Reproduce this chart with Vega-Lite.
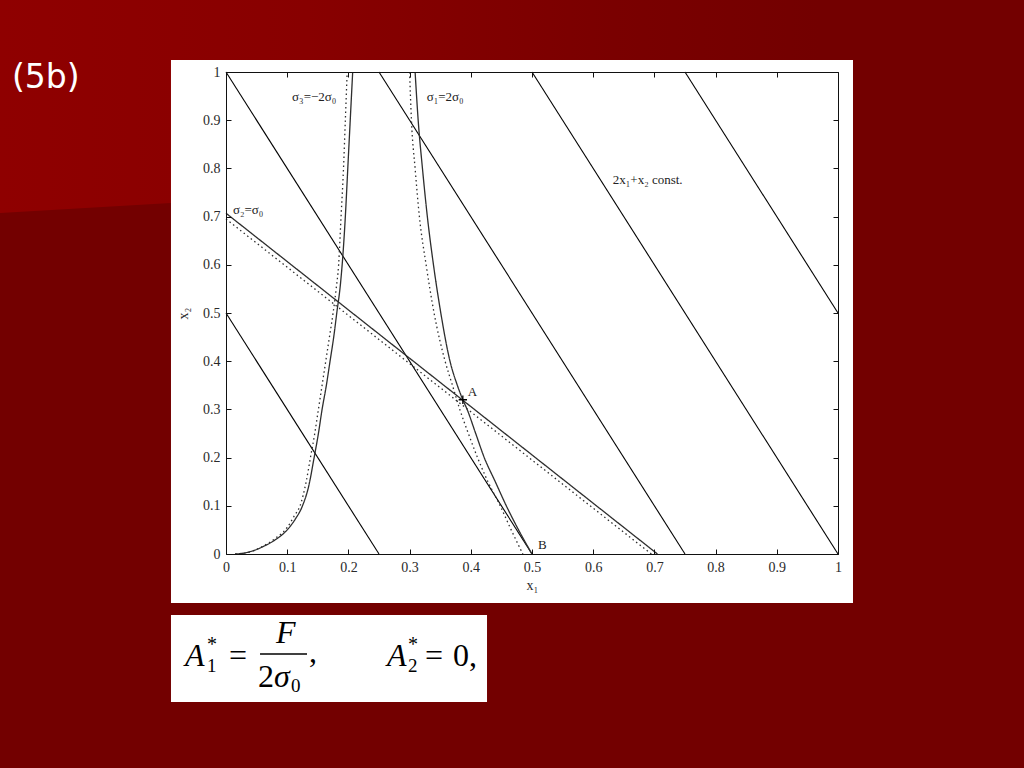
{
  "$schema": "https://vega.github.io/schema/vega-lite/v6.json",
  "width": 612,
  "height": 482,
  "autosize": {"type": "none"},
  "padding": {"left": 226, "top": 72, "right": 186, "bottom": 214},
  "background": "#730000",
  "config": {
    "view": {"stroke": null},
    "axis": {
      "zindex": 1,
      "grid": false,
      "domainColor": "#111",
      "domainWidth": 1,
      "tickColor": "#111",
      "tickSize": -5,
      "labelPadding": 11,
      "labelFlush": false,
      "labelOverlap": false,
      "labelFont": "Liberation Serif",
      "labelFontSize": 14,
      "labelColor": "#2a2a2a",
      "titleFont": "Liberation Serif",
      "titleFontSize": 14,
      "titleFontWeight": "normal",
      "titleColor": "#2a2a2a"
    }
  },
  "datasets": {
    "bg": [{"x": -0.3693, "y": 0.7075}, {"x": 1.3039, "y": 0.8324}],
    "box": [{"x": -0.0899, "x2": 1.0245, "y": -0.1017, "y2": 1.0249}, {"x": -0.0899, "x2": 0.4265, "y": -0.1266, "y2": -0.3071}],
    "constLines": [
      {"c": "0.5", "x": 0, "y": 0.5}, {"c": "0.5", "x": 0.25, "y": 0},
      {"c": "1.0", "x": 0, "y": 1}, {"c": "1.0", "x": 0.5, "y": 0},
      {"c": "1.5", "x": 0.25, "y": 1}, {"c": "1.5", "x": 0.75, "y": 0},
      {"c": "2.0", "x": 0.5, "y": 1}, {"c": "2.0", "x": 1, "y": 0},
      {"c": "2.5", "x": 0.75, "y": 1}, {"c": "2.5", "x": 1, "y": 0.5}
    ],
    "sigma": [
      {"curve": "s2", "kind": "exact", "x": 0, "y": 0.707},
      {"curve": "s2", "kind": "exact", "x": 0.705, "y": 0},
      {"curve": "s2d", "kind": "approx", "x": 0, "y": 0.695},
      {"curve": "s2d", "kind": "approx", "x": 0.695, "y": 0},
      {"curve": "s3", "kind": "exact", "x": 0.015, "y": 0},
      {"curve": "s3", "kind": "exact", "x": 0.03, "y": 0.002},
      {"curve": "s3", "kind": "exact", "x": 0.045, "y": 0.007},
      {"curve": "s3", "kind": "exact", "x": 0.06, "y": 0.015},
      {"curve": "s3", "kind": "exact", "x": 0.08, "y": 0.029},
      {"curve": "s3", "kind": "exact", "x": 0.1, "y": 0.05},
      {"curve": "s3", "kind": "exact", "x": 0.113, "y": 0.072},
      {"curve": "s3", "kind": "exact", "x": 0.125, "y": 0.1},
      {"curve": "s3", "kind": "exact", "x": 0.135, "y": 0.14},
      {"curve": "s3", "kind": "exact", "x": 0.144, "y": 0.2},
      {"curve": "s3", "kind": "exact", "x": 0.151, "y": 0.25},
      {"curve": "s3", "kind": "exact", "x": 0.157, "y": 0.3},
      {"curve": "s3", "kind": "exact", "x": 0.164, "y": 0.35},
      {"curve": "s3", "kind": "exact", "x": 0.17, "y": 0.4},
      {"curve": "s3", "kind": "exact", "x": 0.176, "y": 0.45},
      {"curve": "s3", "kind": "exact", "x": 0.181, "y": 0.5},
      {"curve": "s3", "kind": "exact", "x": 0.187, "y": 0.56},
      {"curve": "s3", "kind": "exact", "x": 0.191, "y": 0.62},
      {"curve": "s3", "kind": "exact", "x": 0.195, "y": 0.7},
      {"curve": "s3", "kind": "exact", "x": 0.199, "y": 0.8},
      {"curve": "s3", "kind": "exact", "x": 0.203, "y": 0.9},
      {"curve": "s3", "kind": "exact", "x": 0.207, "y": 1.0},
      {"curve": "s3d", "kind": "approx", "x": 0.015, "y": 0},
      {"curve": "s3d", "kind": "approx", "x": 0.03, "y": 0.002},
      {"curve": "s3d", "kind": "approx", "x": 0.045, "y": 0.007},
      {"curve": "s3d", "kind": "approx", "x": 0.06, "y": 0.016},
      {"curve": "s3d", "kind": "approx", "x": 0.08, "y": 0.032},
      {"curve": "s3d", "kind": "approx", "x": 0.1, "y": 0.055},
      {"curve": "s3d", "kind": "approx", "x": 0.112, "y": 0.08},
      {"curve": "s3d", "kind": "approx", "x": 0.121, "y": 0.1},
      {"curve": "s3d", "kind": "approx", "x": 0.131, "y": 0.15},
      {"curve": "s3d", "kind": "approx", "x": 0.138, "y": 0.2},
      {"curve": "s3d", "kind": "approx", "x": 0.145, "y": 0.25},
      {"curve": "s3d", "kind": "approx", "x": 0.151, "y": 0.3},
      {"curve": "s3d", "kind": "approx", "x": 0.157, "y": 0.35},
      {"curve": "s3d", "kind": "approx", "x": 0.163, "y": 0.4},
      {"curve": "s3d", "kind": "approx", "x": 0.169, "y": 0.45},
      {"curve": "s3d", "kind": "approx", "x": 0.175, "y": 0.5},
      {"curve": "s3d", "kind": "approx", "x": 0.18, "y": 0.55},
      {"curve": "s3d", "kind": "approx", "x": 0.184, "y": 0.6},
      {"curve": "s3d", "kind": "approx", "x": 0.188, "y": 0.7},
      {"curve": "s3d", "kind": "approx", "x": 0.192, "y": 0.8},
      {"curve": "s3d", "kind": "approx", "x": 0.195, "y": 0.9},
      {"curve": "s3d", "kind": "approx", "x": 0.198, "y": 1.0},
      {"curve": "s1", "kind": "exact", "x": 0.309, "y": 1.0},
      {"curve": "s1", "kind": "exact", "x": 0.314, "y": 0.9},
      {"curve": "s1", "kind": "exact", "x": 0.321, "y": 0.8},
      {"curve": "s1", "kind": "exact", "x": 0.329, "y": 0.7},
      {"curve": "s1", "kind": "exact", "x": 0.339, "y": 0.6},
      {"curve": "s1", "kind": "exact", "x": 0.351, "y": 0.5},
      {"curve": "s1", "kind": "exact", "x": 0.366, "y": 0.4},
      {"curve": "s1", "kind": "exact", "x": 0.378, "y": 0.35},
      {"curve": "s1", "kind": "exact", "x": 0.387, "y": 0.32},
      {"curve": "s1", "kind": "exact", "x": 0.394, "y": 0.3},
      {"curve": "s1", "kind": "exact", "x": 0.408, "y": 0.25},
      {"curve": "s1", "kind": "exact", "x": 0.422, "y": 0.2},
      {"curve": "s1", "kind": "exact", "x": 0.44, "y": 0.15},
      {"curve": "s1", "kind": "exact", "x": 0.458, "y": 0.1},
      {"curve": "s1", "kind": "exact", "x": 0.478, "y": 0.05},
      {"curve": "s1", "kind": "exact", "x": 0.5, "y": 0},
      {"curve": "s1d", "kind": "approx", "x": 0.3, "y": 1.0},
      {"curve": "s1d", "kind": "approx", "x": 0.303, "y": 0.9},
      {"curve": "s1d", "kind": "approx", "x": 0.309, "y": 0.8},
      {"curve": "s1d", "kind": "approx", "x": 0.316, "y": 0.7},
      {"curve": "s1d", "kind": "approx", "x": 0.327, "y": 0.6},
      {"curve": "s1d", "kind": "approx", "x": 0.34, "y": 0.5},
      {"curve": "s1d", "kind": "approx", "x": 0.358, "y": 0.4},
      {"curve": "s1d", "kind": "approx", "x": 0.37, "y": 0.35},
      {"curve": "s1d", "kind": "approx", "x": 0.382, "y": 0.3},
      {"curve": "s1d", "kind": "approx", "x": 0.396, "y": 0.25},
      {"curve": "s1d", "kind": "approx", "x": 0.411, "y": 0.2},
      {"curve": "s1d", "kind": "approx", "x": 0.428, "y": 0.15},
      {"curve": "s1d", "kind": "approx", "x": 0.448, "y": 0.1},
      {"curve": "s1d", "kind": "approx", "x": 0.466, "y": 0.05},
      {"curve": "s1d", "kind": "approx", "x": 0.485, "y": 0}
    ],
    "points": [{"name": "A", "x": 0.387, "y": 0.32}],
    "notes": [
      {"label": "σ₃=−2σ₀", "x": 0.108, "y": 0.948},
      {"label": "σ₁=2σ₀", "x": 0.328, "y": 0.948},
      {"label": "σ₂=σ₀", "x": 0.0114, "y": 0.714},
      {"label": "2x₁+x₂ const.", "x": 0.632, "y": 0.776},
      {"label": "A", "x": 0.395, "y": 0.336},
      {"label": "B", "x": 0.51, "y": 0.019}
    ],
    "slideTitle": [{"label": "(5b)", "x": -0.3497, "y": 0.9668}],
    "fItalic": [
      {"t": "A", "x": -0.067, "y": -0.2324},
      {"t": "F", "x": 0.0817, "y": -0.1846},
      {"t": "σ", "x": 0.0784, "y": -0.2759},
      {"t": "A", "x": 0.2631, "y": -0.2324}
    ],
    "fRoman": [
      {"t": "=", "x": 0.0049, "y": -0.2324},
      {"t": "2", "x": 0.0523, "y": -0.2759},
      {"t": ",", "x": 0.1356, "y": -0.224},
      {"t": "=", "x": 0.3252, "y": -0.2324},
      {"t": "0,", "x": 0.3709, "y": -0.2324}
    ],
    "fStar": [
      {"t": "*", "x": -0.031, "y": -0.2012},
      {"t": "*", "x": 0.2974, "y": -0.2012}
    ],
    "fSub": [
      {"t": "1", "x": -0.031, "y": -0.2448},
      {"t": "0", "x": 0.1062, "y": -0.2863},
      {"t": "2", "x": 0.2974, "y": -0.2448}
    ],
    "fBar": [{"x": 0.0556, "x2": 0.1324, "y": -0.2075}]
  },
  "layer": [
    {
      "data": {"name": "bg"},
      "mark": {
        "type": "area",
        "color": {
          "gradient": "linear", "x1": 0, "x2": 1, "y1": 0, "y2": 0,
          "stops": [
            {"offset": 0, "color": "#8f0000"},
            {"offset": 0.3, "color": "#880000"},
            {"offset": 0.6, "color": "#7a0000"},
            {"offset": 0.8, "color": "#730000"},
            {"offset": 1, "color": "#730000"}
          ]
        }
      },
      "encoding": {
        "x": {"field": "x", "type": "quantitative", "scale": {"domain": [0, 1]}, "axis": null},
        "y": {"field": "y", "type": "quantitative", "scale": {"domain": [0, 1]}, "axis": null},
        "y2": {"datum": 1.16}
      }
    },
    {
      "data": {"name": "box"},
      "mark": {"type": "rect", "color": "#ffffff", "opacity": 1},
      "encoding": {
        "x": {"field": "x", "type": "quantitative", "scale": {"domain": [0, 1]}, "axis": null},
        "x2": {"field": "x2"},
        "y": {"field": "y", "type": "quantitative", "scale": {"domain": [0, 1]}, "axis": null},
        "y2": {"field": "y2"}
      }
    },
    {
      "data": {"name": "constLines"},
      "mark": {"type": "line", "color": "#000000", "strokeWidth": 1.1},
      "encoding": {
        "x": {
          "field": "x", "type": "quantitative", "scale": {"domain": [0, 1], "nice": false},
          "axis": {"orient": "bottom", "zindex": 2, "values": [0, 0.1, 0.2, 0.3, 0.4, 0.5, 0.6, 0.7, 0.8, 0.9, 1], "format": "~g", "title": "x₁", "titlePadding": 4}
        },
        "y": {
          "field": "y", "type": "quantitative", "scale": {"domain": [0, 1], "nice": false},
          "axis": {"orient": "left", "zindex": 2, "values": [0, 0.1, 0.2, 0.3, 0.4, 0.5, 0.6, 0.7, 0.8, 0.9, 1], "format": "~g", "title": "x₂", "titlePadding": 12}
        },
        "detail": {"field": "c", "type": "nominal"}
      }
    },
    {
      "data": {"name": "sigma"},
      "mark": {"type": "line", "color": "#2e2e2e", "strokeWidth": 1.3, "interpolate": "monotone"},
      "encoding": {
        "x": {
          "field": "x", "type": "quantitative", "scale": {"domain": [0, 1], "nice": false},
          "axis": {"orient": "top", "zindex": 2, "values": [0, 0.1, 0.2, 0.3, 0.4, 0.5, 0.6, 0.7, 0.8, 0.9, 1], "labels": false, "title": null}
        },
        "y": {
          "field": "y", "type": "quantitative", "scale": {"domain": [0, 1], "nice": false},
          "axis": {"orient": "right", "zindex": 2, "values": [0, 0.1, 0.2, 0.3, 0.4, 0.5, 0.6, 0.7, 0.8, 0.9, 1], "labels": false, "title": null}
        },
        "detail": {"field": "curve", "type": "nominal"},
        "strokeDash": {
          "field": "kind", "type": "nominal",
          "scale": {"domain": ["exact", "approx"], "range": [[1, 0], [1.5, 3]]},
          "legend": null
        }
      }
    },
    {
      "data": {"name": "points"},
      "mark": {"type": "point", "shape": "M-1,0L1,0M0,-1L0,1", "size": 70, "color": "#000000", "strokeWidth": 1.3, "filled": false, "opacity": 1},
      "encoding": {
        "x": {"field": "x", "type": "quantitative", "scale": {"domain": [0, 1]}, "axis": null},
        "y": {"field": "y", "type": "quantitative", "scale": {"domain": [0, 1]}, "axis": null}
      }
    },
    {
      "data": {"name": "notes"},
      "mark": {"type": "text", "align": "left", "baseline": "middle", "font": "Liberation Serif", "fontSize": 13, "color": "#222222"},
      "encoding": {
        "x": {"field": "x", "type": "quantitative", "scale": {"domain": [0, 1]}, "axis": null},
        "y": {"field": "y", "type": "quantitative", "scale": {"domain": [0, 1]}, "axis": null},
        "text": {"field": "label"}
      }
    },
    {
      "data": {"name": "slideTitle"},
      "mark": {"type": "text", "align": "left", "baseline": "alphabetic", "font": "DejaVu Sans", "fontSize": 33, "color": "#ffffff"},
      "encoding": {
        "x": {"field": "x", "type": "quantitative", "scale": {"domain": [0, 1]}, "axis": null},
        "y": {"field": "y", "type": "quantitative", "scale": {"domain": [0, 1]}, "axis": null},
        "text": {"field": "label"}
      }
    },
    {
      "data": {"name": "fItalic"},
      "mark": {"type": "text", "align": "left", "baseline": "alphabetic", "font": "Liberation Serif", "fontStyle": "italic", "fontSize": 32, "color": "#000000"},
      "encoding": {
        "x": {"field": "x", "type": "quantitative", "scale": {"domain": [0, 1]}, "axis": null},
        "y": {"field": "y", "type": "quantitative", "scale": {"domain": [0, 1]}, "axis": null},
        "text": {"field": "t"}
      }
    },
    {
      "data": {"name": "fRoman"},
      "mark": {"type": "text", "align": "left", "baseline": "alphabetic", "font": "Liberation Serif", "fontSize": 32, "color": "#000000"},
      "encoding": {
        "x": {"field": "x", "type": "quantitative", "scale": {"domain": [0, 1]}, "axis": null},
        "y": {"field": "y", "type": "quantitative", "scale": {"domain": [0, 1]}, "axis": null},
        "text": {"field": "t"}
      }
    },
    {
      "data": {"name": "fStar"},
      "mark": {"type": "text", "align": "left", "baseline": "alphabetic", "font": "Liberation Serif", "fontSize": 20, "color": "#000000"},
      "encoding": {
        "x": {"field": "x", "type": "quantitative", "scale": {"domain": [0, 1]}, "axis": null},
        "y": {"field": "y", "type": "quantitative", "scale": {"domain": [0, 1]}, "axis": null},
        "text": {"field": "t"}
      }
    },
    {
      "data": {"name": "fSub"},
      "mark": {"type": "text", "align": "left", "baseline": "alphabetic", "font": "Liberation Serif", "fontSize": 19, "color": "#000000"},
      "encoding": {
        "x": {"field": "x", "type": "quantitative", "scale": {"domain": [0, 1]}, "axis": null},
        "y": {"field": "y", "type": "quantitative", "scale": {"domain": [0, 1]}, "axis": null},
        "text": {"field": "t"}
      }
    },
    {
      "data": {"name": "fBar"},
      "mark": {"type": "rule", "color": "#000000", "strokeWidth": 1.5},
      "encoding": {
        "x": {"field": "x", "type": "quantitative", "scale": {"domain": [0, 1]}, "axis": null},
        "x2": {"field": "x2"},
        "y": {"field": "y", "type": "quantitative", "scale": {"domain": [0, 1]}, "axis": null}
      }
    }
  ]
}
